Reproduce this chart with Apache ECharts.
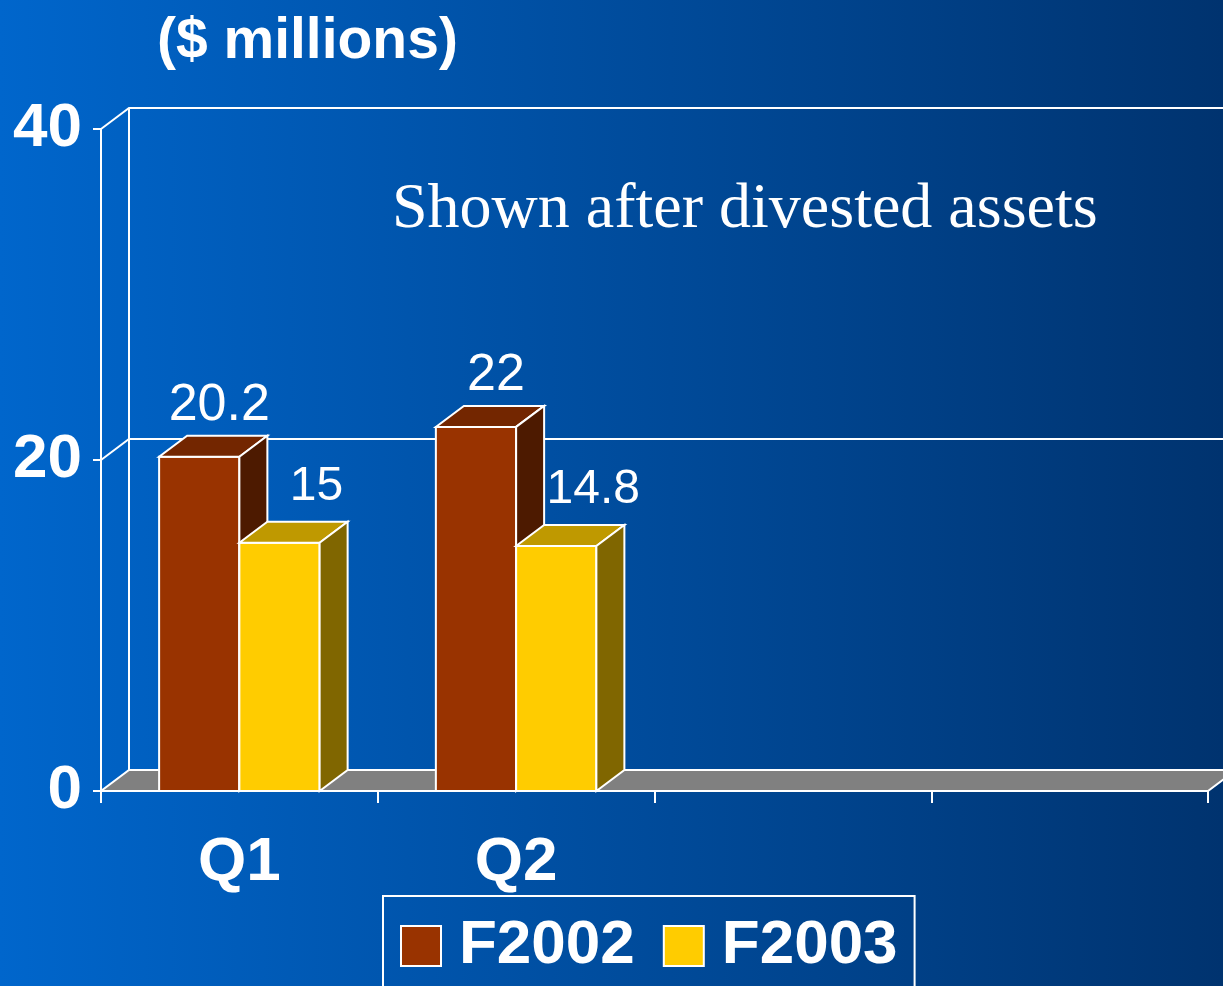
<!DOCTYPE html>
<html>
<head>
<meta charset="utf-8">
<script src="https://cdn.jsdelivr.net/npm/echarts@6/dist/echarts.min.js"></script>
<style>
html, body { margin: 0; padding: 0; background: #0050a8; }
#chart { width: 1223px; height: 986px; }
</style>
</head>
<body>
<div id="chart"></div>
<script>
// ---- data ----
const categories = ['Q1', 'Q2', '', ''];
const seriesNames = ['F2002', 'F2003'];
const f2002 = [20.2, 22];
const f2003 = [15, 14.8];
const yTicks = [0, 20, 40];
const chartTitle = '($ millions)';
const noteText = 'Shown after divested assets';

// ---- style ----
const SANS = '"Liberation Sans", Arial, sans-serif';
const SERIF = '"Liberation Serif", "Times New Roman", serif';
const DX = 28, DY = -21;
const BAR_RATIO = 0.29;
const colorsF2002 = ['#993300', '#732600', '#4d1a00'];
const colorsF2003 = ['#ffcc00', '#bf9900', '#806600'];

function barRenderer(side, colors, labelDx, labelGap, labelSize) {
  return function (params, api) {
    const idx = api.value(0), val = api.value(1);
    const top = api.coord([idx, val]);
    const base = api.coord([idx, 0]);
    const band = api.size([1, 0])[0];
    const w = band * BAR_RATIO;
    const x0 = side === 0 ? top[0] - w : top[0];
    const x1 = x0 + w;
    const yt = top[1], yb = base[1];
    const edge = { stroke: '#ffffff', lineWidth: 2, lineJoin: 'miter' };
    return {
      type: 'group',
      children: [
        { type: 'polygon', shape: { points: [[x0, yb], [x0, yt], [x1, yt], [x1, yb]] },
          style: Object.assign({ fill: colors[0] }, edge) },
        { type: 'polygon', shape: { points: [[x0, yt], [x1, yt], [x1 + DX, yt + DY], [x0 + DX, yt + DY]] },
          style: Object.assign({ fill: colors[1] }, edge) },
        { type: 'polygon', shape: { points: [[x1, yt], [x1 + DX, yt + DY], [x1 + DX, yb + DY], [x1, yb]] },
          style: Object.assign({ fill: colors[2] }, edge) },
        { type: 'text',
          style: { text: String(val), x: (x0 + x1) / 2 + labelDx, y: yt + DY - labelGap - labelSize * 0.35,
                   align: 'center', verticalAlign: 'middle', fill: '#ffffff',
                   font: labelSize + 'px ' + SANS } }
      ]
    };
  };
}

function wallRenderer(params, api) {
  const cs = params.coordSys;
  const x0 = cs.x, x1 = cs.x + cs.width;
  const yZero = api.coord([0, 0])[1];
  const yMax = api.coord([0, yTicks[yTicks.length - 1]])[1];
  const children = [];
  yTicks.forEach(function (v) {
    if (v === 0) return;
    const y = api.coord([0, v])[1];
    children.push({ type: 'polyline', shape: { points: [[x0, y], [x0 + DX, y + DY], [x1 + DX + 40, y + DY]] },
      style: { stroke: '#ffffff', lineWidth: 2, fill: null } });
  });
  children.push({ type: 'line', shape: { x1: x0 + DX, y1: yMax + DY, x2: x0 + DX, y2: yZero + DY },
    style: { stroke: '#ffffff', lineWidth: 2 } });
  children.push({ type: 'polygon',
    shape: { points: [[x0, yZero], [x1, yZero], [x1 + DX, yZero + DY], [x0 + DX, yZero + DY]] },
    style: { fill: '#808080', stroke: '#ffffff', lineWidth: 2 } });
  return { type: 'group', children: children };
}

const chart = echarts.init(document.getElementById('chart'), null, { renderer: 'canvas' });
chart.setOption({
  animation: false,
  backgroundColor: new echarts.graphic.LinearGradient(0, 0, 1, 0, [
    { offset: 0, color: '#0066cc' },
    { offset: 1, color: '#00336f' }
  ]),
  title: [
    { text: chartTitle, left: 157, top: 14, padding: 0,
      textStyle: { color: '#ffffff', fontSize: 57, fontWeight: 'bold', fontFamily: SANS } },
    { text: noteText, left: 392, top: 178, padding: 0,
      textStyle: { color: '#ffffff', fontSize: 64, fontWeight: 'normal', fontFamily: SERIF } }
  ],
  legend: {
    data: seriesNames, left: 383, top: 896, orient: 'horizontal',
    padding: [19, 17, 40, 17], borderColor: '#ffffff', borderWidth: 2,
    itemWidth: 40, itemHeight: 40, itemGap: 28, icon: 'rect',
    itemStyle: { borderColor: '#ffffff', borderWidth: 2 },
    textStyle: { color: '#ffffff', fontSize: 62, fontWeight: 'bold', fontFamily: SANS, padding: [0, 0, 0, 13] }
  },
  grid: { left: 101, top: 129, right: 15, bottom: 195, containLabel: false },
  xAxis: {
    type: 'category', data: categories, boundaryGap: true,
    axisLine: { show: true, lineStyle: { color: '#ffffff', width: 2 } },
    axisTick: { show: true, length: 12, lineStyle: { color: '#ffffff', width: 2 } },
    axisLabel: { color: '#ffffff', fontSize: 62, fontWeight: 'bold', fontFamily: SANS, margin: 41 },
    splitLine: { show: false }
  },
  yAxis: {
    type: 'value', min: 0, max: 40, interval: 20,
    axisLine: { show: true, lineStyle: { color: '#ffffff', width: 2 } },
    axisTick: { show: true, length: 8, lineStyle: { color: '#ffffff', width: 2 } },
    axisLabel: { color: '#ffffff', fontSize: 62, fontWeight: 'bold', fontFamily: SANS, margin: 19 },
    splitLine: { show: false }
  },
  series: [
    { type: 'custom', name: 'wall', coordinateSystem: 'cartesian2d', silent: true, clip: false, z: 1,
      data: [[0, 0]], renderItem: wallRenderer },
    { type: 'custom', name: seriesNames[0], coordinateSystem: 'cartesian2d', clip: false, z: 3,
      itemStyle: { color: colorsF2002[0] },
      data: f2002.map(function (v, i) { return [i, v]; }),
      renderItem: barRenderer(0, colorsF2002, 20, 12, 52) },
    { type: 'custom', name: seriesNames[1], coordinateSystem: 'cartesian2d', clip: false, z: 4,
      itemStyle: { color: colorsF2003[0] },
      data: f2003.map(function (v, i) { return [i, v]; }),
      renderItem: barRenderer(1, colorsF2003, 37, 18, 48) }
  ]
});
</script>
</body>
</html>
